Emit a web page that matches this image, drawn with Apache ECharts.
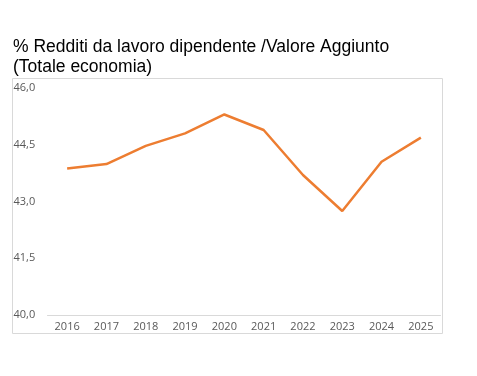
<!DOCTYPE html>
<html lang="it">
<head>
    <meta charset="UTF-8">
    <title>Redditi da lavoro dipendente / Valore Aggiunto</title>
    <style>
        *{ margin: 0; }
        html,body{ width: 477px; height: 376px; background: #fff; }
        #chart{ width: 477px; height: 376px; }
    </style>
    <script src="https://cdn.jsdelivr.net/npm/echarts@6/dist/echarts.min.js"></script>
</head>
<body>
<div id="chart"></div>
<script>
    // dati
    const anni = ['2016', '2017', '2018', '2019', '2020', '2021', '2022', '2023', '2024', '2025'];
    const quota = [43.87, 43.99, 44.47, 44.80, 45.30, 44.89, 43.70, 42.75, 44.05, 44.69];
    const yMin = 40, yMax = 46, yStep = 1.5;

    const myChart = echarts.init(document.getElementById('chart'));
    myChart.setOption({
        animation: false,
        title: {
            text: '% Redditi da lavoro dipendente /Valore Aggiunto\n(Totale economia)',
            left: 13,
            top: 37,
            padding: 0,
            textStyle: {
                fontFamily: 'Liberation Sans',
                fontSize: 17.5,
                fontWeight: 'normal',
                color: '#000',
                lineHeight: 20
            }
        },
        // cornice dell'area del grafico
        graphic: [{
            type: 'rect',
            shape: { x: 12.5, y: 78.5, width: 430, height: 255 },
            style: { fill: 'none', stroke: '#d9d9d9', lineWidth: 1 },
            z: -1
        }],
        grid: {
            left: 47.5,
            right: 36.5,
            top: 88,
            bottom: 61
        },
        xAxis: {
            type: 'category',
            data: anni,
            axisLine: { lineStyle: { color: '#d9d9d9', width: 1 } },
            axisTick: { show: false },
            axisLabel: {
                color: '#595959',
                fontFamily: 'Open Sans',
                fontSize: 11,
                margin: 6
            }
        },
        yAxis: {
            type: 'value',
            min: yMin,
            max: yMax,
            interval: yStep,
            splitLine: { show: false },
            axisLine: { show: false },
            axisTick: { show: false },
            axisLabel: {
                color: '#595959',
                fontFamily: 'Open Sans',
                fontSize: 11,
                align: 'left',
                margin: 34,
                formatter: function (v) {
                    return v.toFixed(1).replace('.', ',');
                }
            }
        },
        series: [{
            type: 'line',
            data: quota,
            symbol: 'none',
            lineStyle: { color: '#ED7D31', width: 2.5 }
        }]
    });
</script>
</body>
</html>
